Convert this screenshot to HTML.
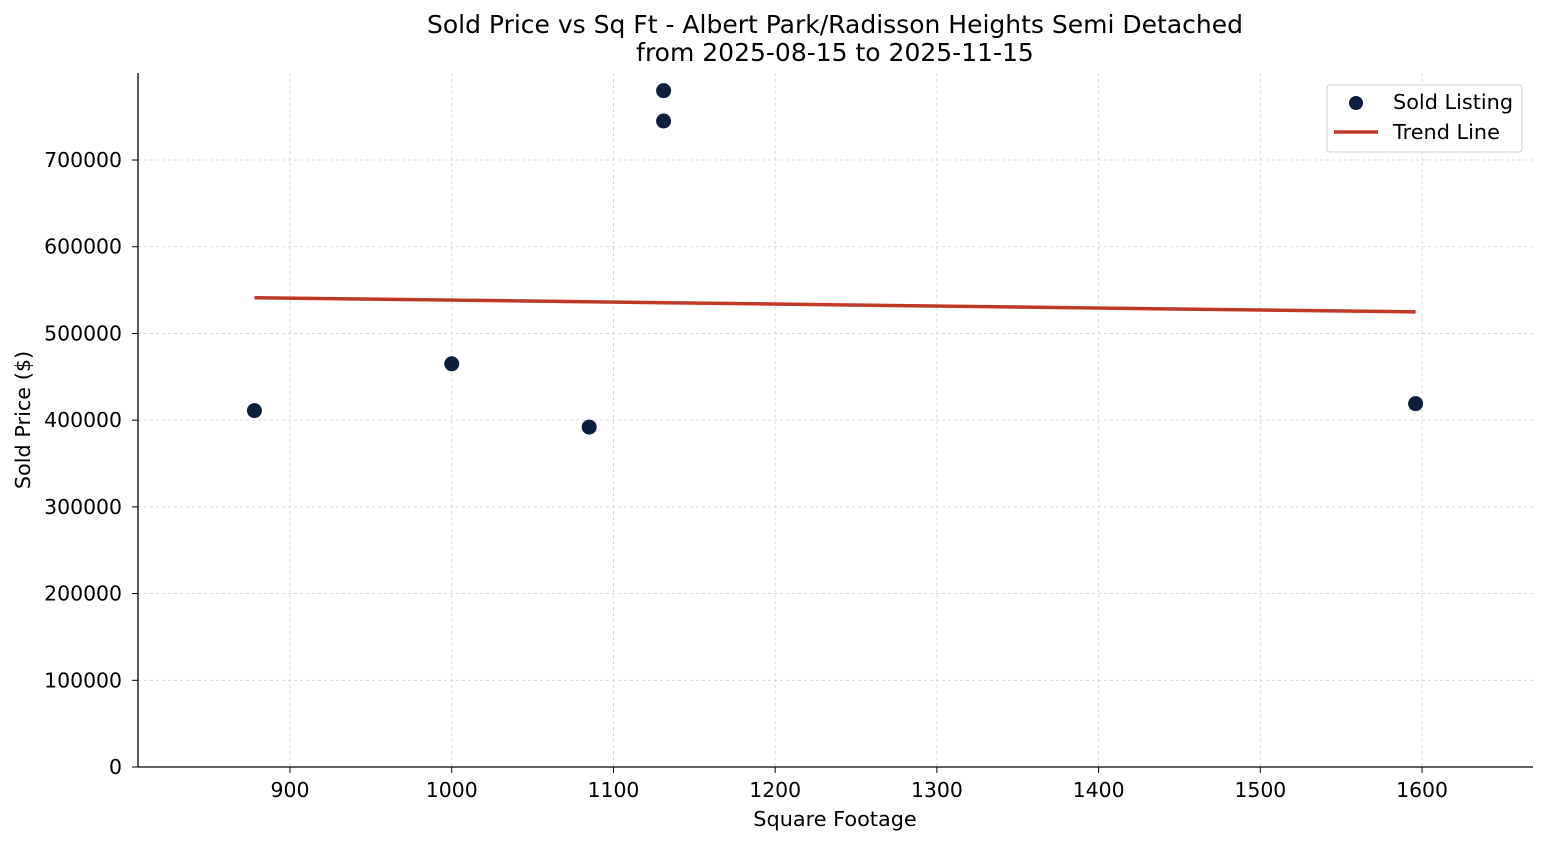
<!DOCTYPE html>
<html><head><meta charset="utf-8"><style>
html,body{margin:0;padding:0;background:#fff;}
svg{display:block;font-family:"DejaVu Sans","Liberation Sans",sans-serif;}
</style></head><body>
<svg id="chart" width="1547" height="845" viewBox="0 0 1547 845" xmlns="http://www.w3.org/2000/svg">
<rect width="1547" height="845" fill="#fff"/>
<g id="grid"></g>
<g id="ticks"></g>
<g id="marks"></g>
<line x1="138" y1="73" x2="138" y2="767" stroke="#000" stroke-width="1.3"/>
<line x1="138" y1="767" x2="1533" y2="767" stroke="#000" stroke-width="1.3"/>
<text x="835" y="33" text-anchor="middle" font-size="25">Sold Price vs Sq Ft - Albert Park/Radisson Heights Semi Detached</text>
<text x="835" y="61" text-anchor="middle" font-size="25">from 2025-08-15 to 2025-11-15</text>
<text x="835" y="826" text-anchor="middle" font-size="20.8">Square Footage</text>
<text transform="translate(30,420) rotate(-90)" text-anchor="middle" font-size="20.8">Sold Price ($)</text>
<g>
<rect x="1327" y="85" width="195" height="67" rx="3" fill="#fff" stroke="#ccc"/>
<circle cx="1356" cy="103" r="7" fill="#0d1f3c"/>
<text x="1393" y="109" font-size="20.8">Sold Listing</text>
<line x1="1334" y1="132" x2="1378" y2="132" stroke="#c0392b" stroke-width="3.5"/>
<text x="1393" y="139" font-size="20.8">Trend Line</text>
</g>
</svg>
<script>
const sqft = [878, 1000, 1085, 1131, 1131, 1596];
const prices = [411000, 465000, 392000, 780000, 745000, 419000];
const xTicks = [900, 1000, 1100, 1200, 1300, 1400, 1500, 1600];
const yTicks = [0, 100000, 200000, 300000, 400000, 500000, 600000, 700000];

const X0 = 806, X1 = 1668.6, PX0 = 138, PX1 = 1533;
const Y0 = 0, Y1 = 800370, PY0 = 767, PY1 = 73;
const xs = v => PX0 + (v - X0) / (X1 - X0) * (PX1 - PX0);
const ys = v => PY0 - (v - Y0) / (Y1 - Y0) * (PY0 - PY1);
const NS = "http://www.w3.org/2000/svg";
function mk(tag, attrs, parent) {
  const e = document.createElementNS(NS, tag);
  for (const k in attrs) e.setAttribute(k, attrs[k]);
  parent.appendChild(e);
  return e;
}
const grid = document.getElementById('grid');
const ticks = document.getElementById('ticks');
const marks = document.getElementById('marks');

xTicks.forEach(t => {
  const x = xs(t);
  const g = mk('line', {x1: x, y1: PY1, x2: x, y2: PY0, stroke: '#d0d0d0', 'stroke-width': 0.8, 'stroke-dasharray': '3,3'}, grid);
  
  
  const tl = mk('line', {x1: x, y1: PY0, x2: x, y2: PY0 + 6, stroke: '#000', 'stroke-width': 1}, ticks);
  
  
  const tx = mk('text', {x: x, y: PY0 + 30, 'text-anchor': 'middle', 'font-size': 20.4}, ticks);
  tx.textContent = t;
  
  
});
yTicks.forEach(t => {
  const y = ys(t);
  const g = mk('line', {x1: PX0, y1: y, x2: PX1, y2: y, stroke: '#d0d0d0', 'stroke-width': 0.8, 'stroke-dasharray': '3,3'}, grid);
  
  
  const tl = mk('line', {x1: PX0 - 6, y1: y, x2: PX0, y2: y, stroke: '#000', 'stroke-width': 1}, ticks);
  
  
  const tx = mk('text', {x: PX0 - 16, y: y + 7, 'text-anchor': 'end', 'font-size': 20.4}, ticks);
  tx.textContent = t;
  
  
});

const n = sqft.length;
const mx = sqft.reduce((a, b) => a + b, 0) / n;
const my = prices.reduce((a, b) => a + b, 0) / n;
let sxy = 0, sxx = 0;
for (let i = 0; i < n; i++) { sxy += (sqft[i] - mx) * (prices[i] - my); sxx += (sqft[i] - mx) ** 2; }
const slope = sxy / sxx, icpt = my - slope * mx;
const xmin = Math.min(...sqft), xmax = Math.max(...sqft);
const tr = mk('line', {x1: xs(xmin), y1: ys(icpt + slope * xmin), x2: xs(xmax), y2: ys(icpt + slope * xmax), stroke: '#c0392b', 'stroke-width': 3.5}, marks);



sqft.forEach((v, i) => {
  const c = mk('circle', {cx: xs(v), cy: ys(prices[i]), r: 7.5, fill: '#0d1f3c'}, marks);
  
  
});
</script>
</body></html>
